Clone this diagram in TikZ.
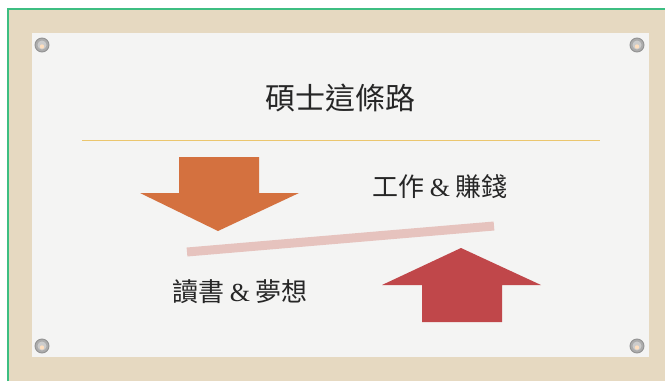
\documentclass[tikz,border=0pt]{standalone}
\usepackage{fontspec}
\newfontfamily\cjk{Noto Sans CJK TC}
\newfontfamily\ampfont{Liberation Serif}
\definecolor{wood}{HTML}{E6D9C1}
\definecolor{paper}{HTML}{F4F4F3}
\definecolor{edge}{HTML}{3DBE82}
\definecolor{gold}{HTML}{EBC66E}
\definecolor{orangearrow}{HTML}{D4713F}
\definecolor{redarrow}{HTML}{C0474A}
\definecolor{pinkbar}{HTML}{E6C3BE}
\tikzset{
    label text/.style={font=\cjk\fontsize{26}{31}\selectfont, text=black!85, inner sep=0pt},
    screw/.style={fill=gray!65, draw=gray!85, line width=.9pt}
}
\newcommand{\amp}{{\ampfont\&}}

\begin{document}
\begin{tikzpicture}[x=1pt, y=-1pt]
    \useasboundingbox (0, 0) rectangle (665, 381);
    \fill[white](0, 0) rectangle (665, 381);
    \fill[wood](8, 9) rectangle (665, 381);
    \draw[edge, line width=2pt](7.5, 381)--(7.5, 8.5)--(665, 8.5);
    \fill[paper](32, 33) rectangle (649, 357);
    % screws in the corners
    \foreach \sx/\sy in {42/45, 637/45, 42/346, 637/346}{
        \fill[screw](\sx, \sy) circle(7);
        \fill[gray!40](\sx, \sy) circle(4.5);
        \fill[orange!25](\sx, \sy+1.5) circle(2.2);
    }
    \node[font=\cjk\fontsize{30}{36}\selectfont, text=black!85](title) at (340, 98) {碩士這條路};
    \draw[gold, line width=1pt](82, 140)--(600, 140);
    % arrows and bar
    \fill[orangearrow](179, 157)--(259, 157)--(259, 193)--(299, 193)--(218, 231)--(140, 193)--(179, 193)--cycle;
    \fill[redarrow](422, 322)--(502, 322)--(502, 285)--(541, 285)--(461, 248)--(382, 285)--(422, 285)--cycle;
    \draw[pinkbar, line width=9pt](187, 252)--(494, 226);
    \node[label text](work) at (440, 187) {工作 \amp{} 賺錢};
    \node[label text](study) at (240, 292) {讀書 \amp{} 夢想};
\end{tikzpicture}
\end{document}
